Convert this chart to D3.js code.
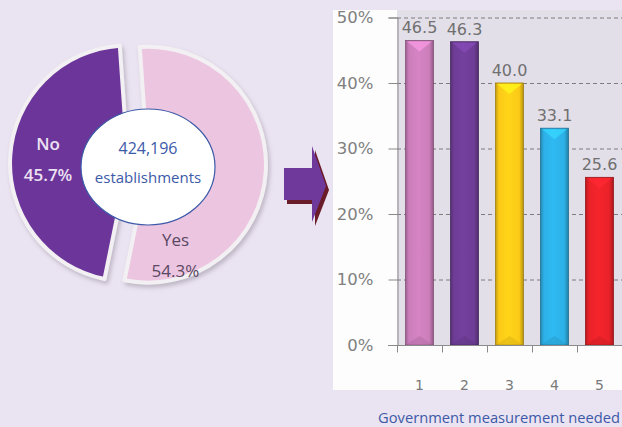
<!DOCTYPE html>
<html>
<head>
<meta charset="utf-8">
<script src="https://cdn.jsdelivr.net/npm/d3@7"></script>
<style>
  html, body { margin: 0; padding: 0; background: #eae3f1; }
  svg { display: block; }
</style>
</head>
<body>
<svg id="chart" width="622" height="427"></svg>
<script>
// pie data
const pieLabels = ['Yes', 'No'];
const pieValues = [54.3, 45.7];
const pieColors = ['#ecc6e1', '#6c369a'];
const totalText = ['424,196', 'establishments'];

// bar data
const barCats = ['1', '2', '3', '4', '5'];
const barValues = [46.5, 46.3, 40.0, 33.1, 25.6];
const barColors = ['#cb7dba', '#6e3d96', '#fbca17', '#2db0e6', '#e92229'];
const yTicks = [0, 10, 20, 30, 40, 50];
const xTitle = 'Government measurement needed';

const W = 622, H = 427;
const svg = d3.select('#chart');
const defs = svg.append('defs');

svg.append('rect').attr('width', W).attr('height', H).attr('fill', '#eae3f1');

// ---------- pie ----------
const pcx = 138, pcy = 164, R = 118, EXPLODE = 10;
const deg = Math.PI / 180;

defs.append('filter').attr('id', 'pieshadow')
  .attr('x', -0.2).attr('y', -0.2).attr('width', 1.4).attr('height', 1.4)
  .append('feDropShadow')
    .attr('dx', 2).attr('dy', 3).attr('stdDeviation', 2)
    .attr('flood-color', '#8a8090').attr('flood-opacity', 0.45);

const pie = d3.pie().sort(null).startAngle(-4 * deg).endAngle(356 * deg);
const arcs = pie(pieValues);
const arc = d3.arc().innerRadius(0).outerRadius(R);

const pieG = svg.append('g').attr('transform', `translate(${pcx},${pcy})`);
pieG.selectAll('path.slice')
  .data(arcs)
  .join('path')
    .attr('class', 'slice')
    .attr('transform', d => {
      let a = (d.startAngle + d.endAngle) / 2;
      return `translate(${EXPLODE * Math.sin(a)},${-EXPLODE * Math.cos(a)})`;
    })
    .attr('d', arc)
    .attr('fill', (d, i) => pieColors[i])
    .attr('stroke', '#f3f0f3')
    .attr('stroke-width', 4)
    .attr('stroke-linejoin', 'round')
    .attr('filter', 'url(#pieshadow)');

// slice labels: angle / radius tuned per slice so they clear the centre ellipse
const labelPos = [{angle: 158, r: 100}, {angle: 272, r: 90}];
const labelFill = ['#5a4862', '#ece2f3'];
const labelWeight = [400, 600];
arcs.forEach((d, i) => {
  let p = labelPos[i];
  let x = p.r * Math.sin(p.angle * deg);
  let y = -p.r * Math.cos(p.angle * deg);
  let g = pieG.append('g').attr('transform', `translate(${x},${y})`)
    .attr('text-anchor', 'middle')
    .attr('font-family', 'Open Sans, sans-serif')
    .attr('font-size', 17)
    .attr('font-weight', labelWeight[i])
    .attr('fill', labelFill[i]);
  g.append('text').attr('y', -11).text(pieLabels[i]);
  g.append('text').attr('y', 20).text(d3.format('.1f')(pieValues[i]) + '%');
});

// centre label
const cg = svg.append('g').attr('transform', 'translate(148,167)');
cg.append('ellipse')
  .attr('rx', 67).attr('ry', 58)
  .attr('fill', '#ffffff')
  .attr('stroke', '#3c5aa8')
  .attr('stroke-width', 1.2);
cg.selectAll('text')
  .data(totalText)
  .join('text')
    .attr('text-anchor', 'middle')
    .attr('y', (d, i) => i === 0 ? -13 : 16)
    .attr('font-family', 'Open Sans, sans-serif')
    .attr('font-size', (d, i) => i === 0 ? 16 : 15)
    .attr('fill', '#3c5aa8')
    .text(d => d);

// ---------- arrow ----------
const arrowPts = [[284, 168], [312, 168], [312, 146], [326, 186], [312, 222], [312, 200], [284, 200]];
const arrowLine = d3.line().curve(d3.curveLinearClosed);
svg.append('path')
  .attr('d', arrowLine(arrowPts))
  .attr('transform', 'translate(3,4)')
  .attr('fill', '#6a1c28');
svg.append('path')
  .attr('d', arrowLine(arrowPts))
  .attr('fill', '#6f399c');

// ---------- bar chart ----------
const panel = {x: 333, y: 10, w: W - 333, h: 380};
const plot = {x0: 397, x1: 622, y0: 345, y1: 17.5};

svg.append('rect')
  .attr('x', panel.x).attr('y', panel.y)
  .attr('width', panel.w).attr('height', panel.h)
  .attr('fill', '#fdfdfd');
svg.append('rect')
  .attr('x', plot.x0).attr('y', panel.y)
  .attr('width', plot.x1 - plot.x0).attr('height', plot.y0 - panel.y)
  .attr('fill', '#e3dfe9');

const x = d3.scaleBand()
  .domain(barCats)
  .range([plot.x0, plot.x1])
  .paddingInner(0.38)
  .paddingOuter(0.19);
const y = d3.scaleLinear()
  .domain([0, 50])
  .range([plot.y0, plot.y1]);

// grid lines
svg.append('g')
  .selectAll('line')
  .data(yTicks.filter(t => t > 0))
  .join('line')
    .attr('x1', plot.x0).attr('x2', plot.x1)
    .attr('y1', d => y(d) + 0.5).attr('y2', d => y(d) + 0.5)
    .attr('stroke', '#7d7d7d')
    .attr('stroke-width', 1)
    .attr('stroke-dasharray', '4,3');

// y axis
const yAxis = svg.append('g')
  .attr('transform', `translate(${plot.x0 + 0.5},0)`)
  .call(d3.axisLeft(y).tickValues(yTicks).tickSize(9).tickPadding(15)
    .tickFormat(d => d + '%'));
yAxis.select('.domain').attr('stroke', '#8a8a8a');
yAxis.selectAll('.tick line').attr('stroke', '#8a8a8a');
yAxis.selectAll('.tick text')
  .attr('font-family', 'DejaVu Sans, sans-serif')
  .attr('font-size', 16.5)
  .attr('fill', '#808080');

// bars
barColors.forEach((c, i) => {
  let base = d3.color(c);
  let g = defs.append('linearGradient').attr('id', 'bg' + i)
    .attr('x1', 0).attr('x2', 1).attr('y1', 0).attr('y2', 0);
  [[0, base.darker(0.7)], [0.12, base], [0.45, base.brighter(0.15)],
   [0.85, base], [1, base.darker(0.9)]].forEach(([o, col]) => {
    g.append('stop').attr('offset', o).attr('stop-color', col.formatHex());
  });
});

const bars = svg.append('g').selectAll('g.bar')
  .data(barValues)
  .join('g')
    .attr('class', 'bar');
bars.append('rect')
  .attr('x', (d, i) => x(barCats[i]))
  .attr('y', d => y(d))
  .attr('width', x.bandwidth())
  .attr('height', d => y(0) - y(d))
  .attr('fill', (d, i) => `url(#bg${i})`)
  .attr('stroke', (d, i) => d3.color(barColors[i]).darker(1.3).formatHex())
  .attr('stroke-width', 0.8);
// top highlight
bars.append('path')
  .attr('d', (d, i) => {
    let x0 = x(barCats[i]) + 1.5, x1 = x0 + x.bandwidth() - 3, t = y(d) + 1;
    return `M${x0},${t}L${x1},${t}L${(x0 + x1) / 2},${t + 10}Z`;
  })
  .attr('fill', (d, i) => d3.color(barColors[i]).brighter(0.6).formatHex())
  .attr('opacity', 0.7);
// bottom shade
bars.append('path')
  .attr('d', (d, i) => {
    let x0 = x(barCats[i]) + 1.5, x1 = x0 + x.bandwidth() - 3, b = y(0) - 1;
    return `M${x0},${b}L${x1},${b}L${(x0 + x1) / 2},${b - 8}Z`;
  })
  .attr('fill', (d, i) => d3.color(barColors[i]).darker(0.4).formatHex())
  .attr('opacity', 0.5);

// value labels
svg.append('g').selectAll('text')
  .data(barValues)
  .join('text')
    .attr('x', (d, i) => x(barCats[i]) + x.bandwidth() / 2)
    .attr('y', d => y(d) - 7)
    .attr('text-anchor', 'middle')
    .attr('font-family', 'DejaVu Sans, sans-serif')
    .attr('font-size', 16)
    .attr('fill', '#707070')
    .text(d => d3.format('.1f')(d));

// x axis
const xAxis = svg.append('g')
  .attr('transform', `translate(0,${plot.y0 + 0.5})`);
xAxis.append('line')
  .attr('x1', plot.x0 - 9).attr('x2', plot.x1)
  .attr('stroke', '#8a8a8a');
xAxis.selectAll('line.tk')
  .data(barCats)
  .join('line')
    .attr('class', 'tk')
    .attr('x1', d => x(d) - x.step() * x.paddingOuter() + 0.5)
    .attr('x2', d => x(d) - x.step() * x.paddingOuter() + 0.5)
    .attr('y1', 0).attr('y2', 7)
    .attr('stroke', '#8a8a8a');
xAxis.selectAll('text')
  .data(barCats)
  .join('text')
    .attr('x', d => x(d) + x.bandwidth() / 2)
    .attr('y', 44)
    .attr('text-anchor', 'middle')
    .attr('font-family', 'DejaVu Sans, sans-serif')
    .attr('font-size', 14)
    .attr('fill', '#7a7a7a')
    .text(d => d);

svg.append('text')
  .attr('x', 620)
  .attr('y', 423)
  .attr('text-anchor', 'end')
  .attr('font-family', 'Open Sans, sans-serif')
  .attr('font-size', 14.7)
  .attr('fill', '#3c5aa8')
  .text(xTitle);
</script>
</body>
</html>
